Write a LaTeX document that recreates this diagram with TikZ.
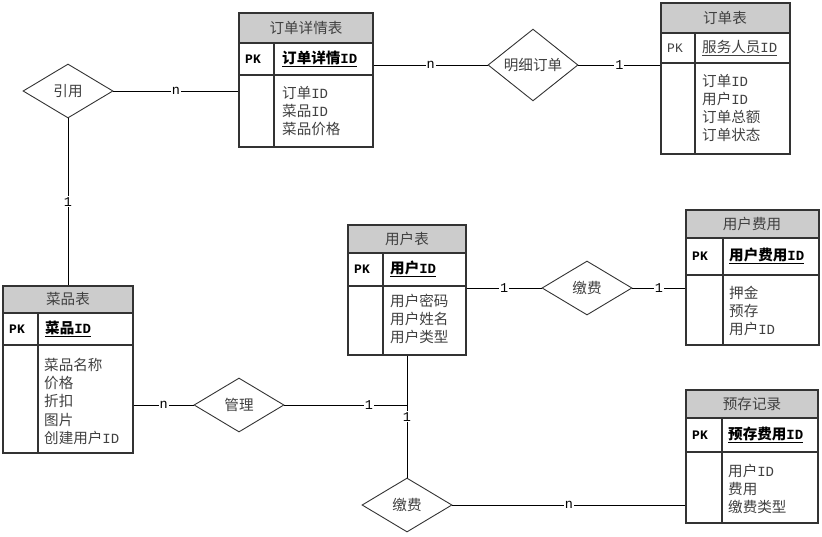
\documentclass[tikz,border=0pt]{standalone}
\usepackage{fontspec}
\setmainfont{Liberation Mono}
\newfontfamily\cjk[Scale=1.04]{Noto Sans CJK SC}
\usetikzlibrary{shapes.geometric,fit}
\definecolor{hdr}{HTML}{CCCCCC}
\definecolor{ln}{HTML}{333333}
\definecolor{txt}{HTML}{404040}
\tikzset{
 tbl/.style={draw=ln, line width=1.3pt, inner sep=0pt},
 sepl/.style={draw=ln, line width=1.1pt},
 rel/.style={diamond, draw=ln, line width=0.9pt, minimum width=90pt, minimum height=54pt, inner sep=0pt, font=\fontsize{14}{16}\selectfont\cjk, text=txt},
 conn/.style={draw=black, line width=0.9pt},
 card/.style={fill=white, inner sep=1pt, font=\fontsize{13.5}{14}\selectfont, text=black},
 ttl/.style={font=\fontsize{14}{16}\selectfont, text=txt},
 pkt/.style={font=\fontsize{13}{16}\selectfont\bfseries, text=black, anchor=west, inner sep=0pt},
 keyt/.style={font=\fontsize{14}{16}\selectfont\bfseries, text=black, anchor=west, inner sep=0pt},
 bodyt/.style={font=\fontsize{14}{18.2}\selectfont, text=txt, anchor=north west, align=left, inner sep=0pt},
}
\newcommand{\ertab}[8]{%
 \fill[hdr] (#2,#3) rectangle (#4,#6);
 \draw[sepl] (#2,#6) -- (#4,#6) (#2,#7) -- (#4,#7) (#8,#6) -- (#8,#5);
 \node[tbl, fit={(#2,#3) (#4,#5)}] (#1) {};
}
\begin{document}
\begin{tikzpicture}[x=1pt,y=-1pt]
\useasboundingbox (0,0) rectangle (822,536);
% tables
\ertab{t1}{239}{13}{373}{147}{43}{75}{274}
\node[ttl] (t1t) at (306,28) {\cjk 订单详情表};
\node[pkt] (t1p) at (245,59) {PK};
\node[keyt] (t1k) at (282,59) {\underline{{\cjk 订单详情}ID}};
\node[bodyt] (t1b) at (282,86) {{\cjk 订单}ID\\{\cjk 菜品}ID\\{\cjk 菜品价格}};

\ertab{dd}{661}{3}{790}{154}{33}{63}{695}
\node[ttl] (ddt) at (725,18) {\cjk 订单表};
\node[pkt, font=\fontsize{13}{16}\selectfont, text=txt] (ddp) at (667,48) {PK};
\node[keyt, font=\fontsize{14}{16}\selectfont, text=txt] (ddk) at (702,48) {\underline{{\cjk 服务人员}ID}};
\node[bodyt] (ddb) at (702,74) {{\cjk 订单}ID\\{\cjk 用户}ID\\{\cjk 订单总额}\\{\cjk 订单状态}};

\ertab{cai}{3}{286}{133}{453}{313}{345}{38}
\node[ttl] (cait) at (68,299) {\cjk 菜品表};
\node[pkt] (caip) at (9,329) {PK};
\node[keyt] (caik) at (45,329) {\underline{{\cjk 菜品}ID}};
\node[bodyt] (caib) at (44,358) {{\cjk 菜品名称}\\{\cjk 价格}\\{\cjk 折扣}\\{\cjk 图片}\\{\cjk 创建用户}ID};

\ertab{usr}{348}{225}{466}{355}{253}{286}{383}
\node[ttl] (usrt) at (407,239) {\cjk 用户表};
\node[pkt] (usrp) at (354,269) {PK};
\node[keyt] (usrk) at (390,269) {\underline{{\cjk 用户}ID}};
\node[bodyt] (usrb) at (390,294) {{\cjk 用户密码}\\{\cjk 用户姓名}\\{\cjk 用户类型}};

\ertab{fee}{686}{210}{819}{345}{238}{275}{723}
\node[ttl] (feet) at (752,224) {\cjk 用户费用};
\node[pkt] (feep) at (692,256) {PK};
\node[keyt] (feek) at (729,256) {\underline{{\cjk 用户费用}ID}};
\node[bodyt] (feeb) at (729,286) {{\cjk 押金}\\{\cjk 预存}\\{\cjk 用户}ID};

\ertab{dep}{686}{390}{818}{523}{418}{452}{722}
\node[ttl] (dept) at (752,404) {\cjk 预存记录};
\node[pkt] (depp) at (692,435) {PK};
\node[keyt] (depk) at (728,435) {\underline{{\cjk 预存费用}ID}};
\node[bodyt] (depb) at (728,464) {{\cjk 用户}ID\\{\cjk 费用}\\{\cjk 缴费类型}};

% relationships
\node[rel] (yin) at (68,91) {引用};
\node[rel] (mx) at (533,65) {明细订单};
\node[rel] (gl) at (239,405) {管理};
\node[rel] (jf1) at (587,288) {缴费};
\node[rel] (jf2) at (407,505) {缴费};
\coordinate (j) at (usr.south |- gl.east);

% connectors
\draw[conn] (yin.east) -- node[card] {n} (t1.west |- yin.east);
\draw[conn] (yin.south) -- node[card] {1} (cai.north -| yin.south);
\draw[conn] (t1.east |- mx.west) -- node[card] {n} (mx.west);
\draw[conn] (mx.east) -- node[card] {1} (dd.west |- mx.east);
\draw[conn] (cai.east |- gl.west) -- node[card] {n} (gl.west);
\draw[conn] (gl.east) -- node[card, pos=0.69] {1} (j);
\draw[conn] (usr.south) -- node[card] {1} (jf2.north);
\draw[conn] (usr.east |- jf1.west) -- node[card] {1} (jf1.west);
\draw[conn] (jf1.east) -- node[card] {1} (fee.west |- jf1.east);
\draw[conn] (jf2.east) -- node[card] {n} (dep.west |- jf2.east);
\end{tikzpicture}
\end{document}
